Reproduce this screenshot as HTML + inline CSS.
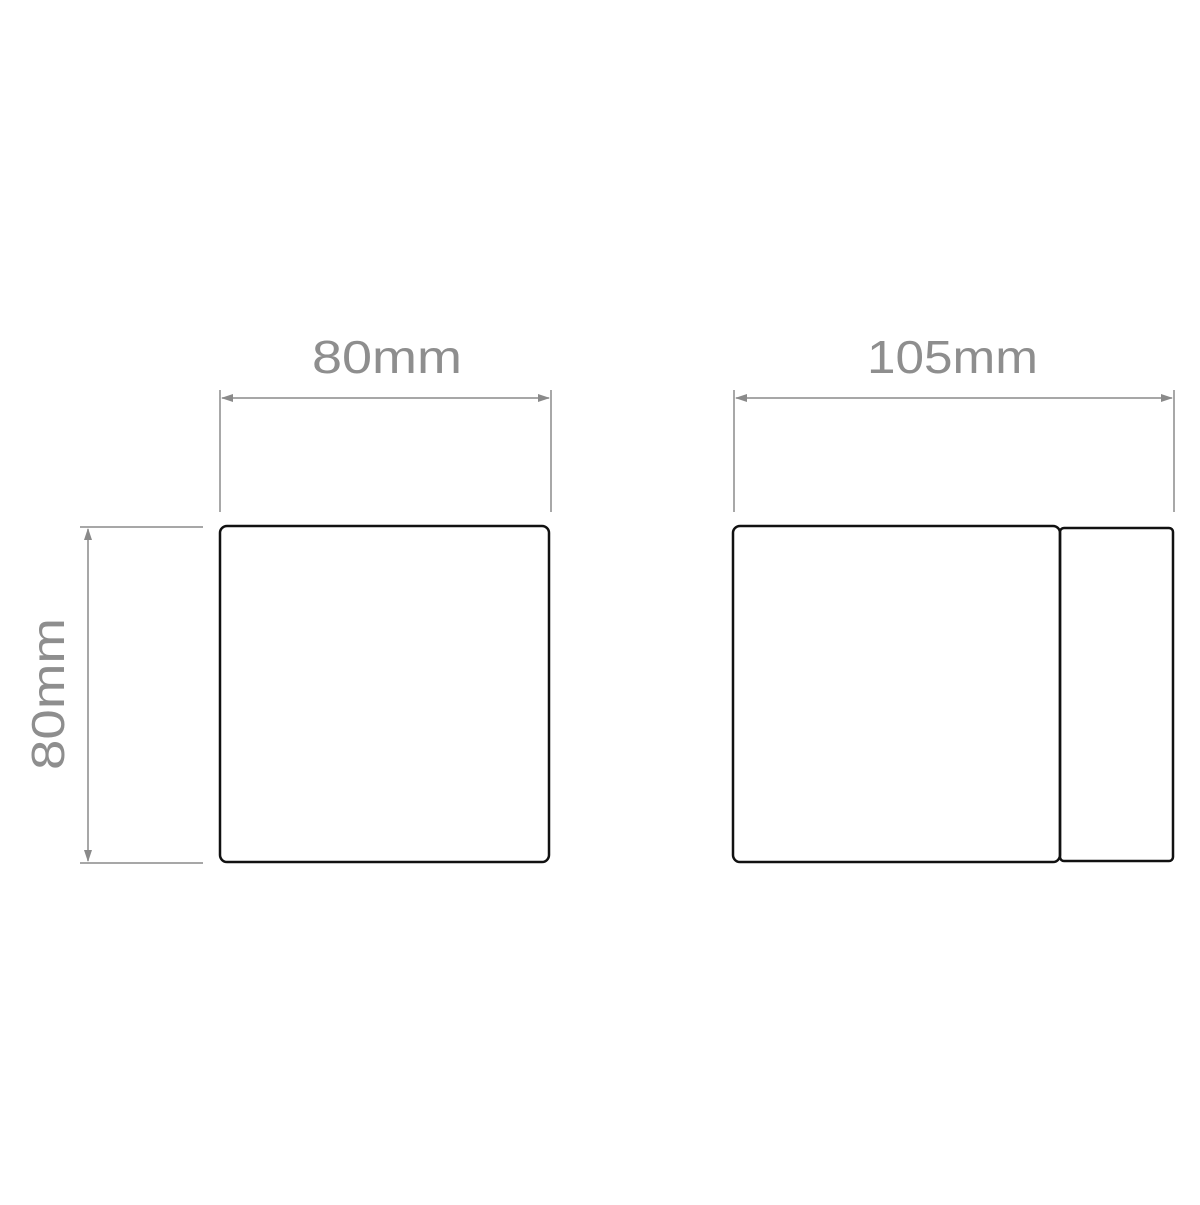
<!DOCTYPE html>
<html><head><style>html,body{margin:0;padding:0;background:#fff;}</style></head>
<body>
<svg width="1200" height="1200" viewBox="0 0 1200 1200" xmlns="http://www.w3.org/2000/svg">
<defs>
<marker id="a" markerWidth="12" markerHeight="8" refX="11" refY="4" orient="auto-start-reverse" markerUnits="userSpaceOnUse">
<path d="M0,0 L12,4 L0,8 Z" fill="#8a8a8a"/>
</marker>
</defs>
<g stroke="#8a8a8a" stroke-width="1.5" fill="none">
<line x1="220" y1="390" x2="220" y2="512"/>
<line x1="551" y1="390" x2="551" y2="512"/>
<line x1="222" y1="398" x2="549" y2="398" marker-start="url(#a)" marker-end="url(#a)"/>
<line x1="734" y1="390" x2="734" y2="512"/>
<line x1="1174" y1="390" x2="1174" y2="512"/>
<line x1="736" y1="398" x2="1172" y2="398" marker-start="url(#a)" marker-end="url(#a)"/>
<line x1="80" y1="527" x2="203" y2="527"/>
<line x1="80" y1="863" x2="203" y2="863"/>
<line x1="88" y1="529" x2="88" y2="861" marker-start="url(#a)" marker-end="url(#a)"/>
</g>
<g stroke="#111" stroke-width="2.5" fill="none">
<rect x="220" y="526" width="329" height="336" rx="7"/>
<rect x="733" y="526" width="327" height="336" rx="7"/>
<rect x="1060" y="528" width="113" height="333" rx="4"/>
</g>
<g font-family="Liberation Sans, sans-serif" font-size="46" fill="#8e8e8e">
<text x="312" y="373" textLength="150" lengthAdjust="spacingAndGlyphs">80mm</text>
<text x="867" y="373" textLength="171" lengthAdjust="spacingAndGlyphs">105mm</text>
<text transform="translate(64,770) rotate(-90)" textLength="152" lengthAdjust="spacingAndGlyphs">80mm</text>
</g>
</svg>
</body></html>
